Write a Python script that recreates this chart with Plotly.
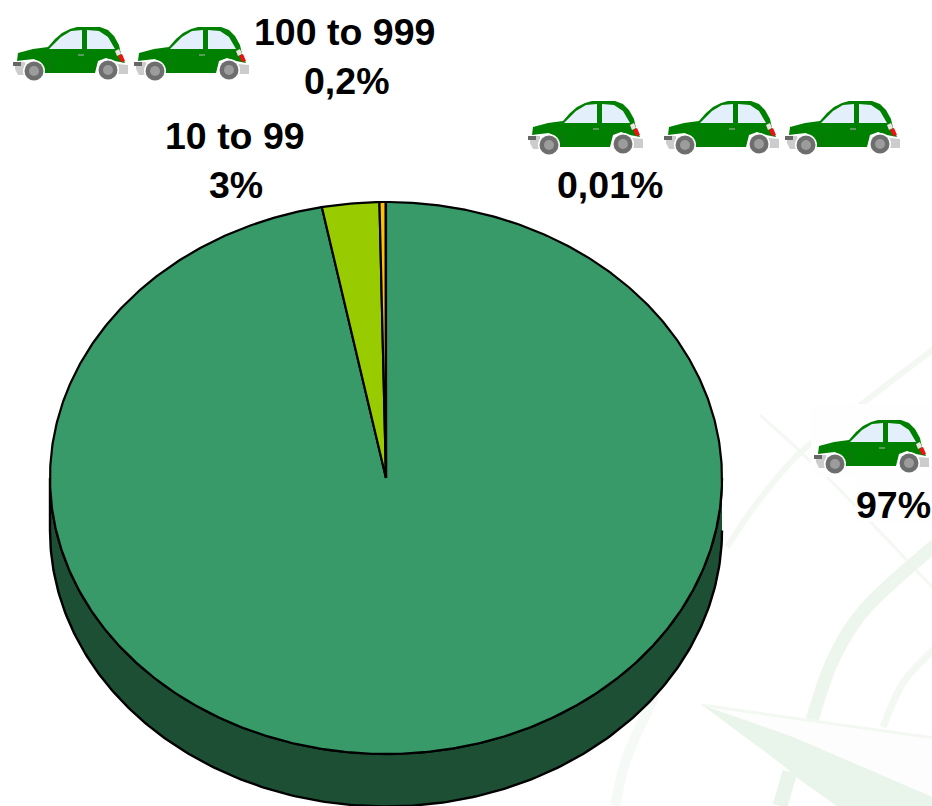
import numpy as np
import plotly.graph_objects as go

W, H = 932, 806
# Chart data
categories = ["1 to 9", "10 to 99", "100 to 999", "1000+"]
shares = [97, 2.75, 0.3, 0.01]
share_labels = ["97%", "3%", "0,2%", "0,01%"]
slice_colors = ["#379a68", "#99cc00", "#ffc000", "#1d4f35"]
side_color = "#1d4f35"
edge_color = "#000000"
start_angle = 0.0
depth_ratio = 0.19

# pixel geometry of the unit pie on the plot
cx, cy, rx, ry = 386, 478, 336, 276
x_range = [-cx / rx, (W - cx) / rx]
y_range = [-(H - cy) / ry, cy / ry]


def px(x):
    return x / W


def py(y):
    return 1 - y / H


def path_from(pts, close=True):
    s = "M" + " L".join(f"{px(x):.5f},{py(y):.5f}" for x, y in pts)
    return s + (" Z" if close else "")


def smooth(pts, n=24):
    # Catmull-Rom resampling for curved pale strokes
    p = np.array(pts, float)
    p = np.vstack([p[0], p, p[-1]])
    out = []
    for i in range(1, len(p) - 2):
        for t in np.linspace(0, 1, n, endpoint=False):
            out.append(0.5 * ((2 * p[i]) + (-p[i - 1] + p[i + 1]) * t
                              + (2 * p[i - 1] - 5 * p[i] + 4 * p[i + 1] - p[i + 2]) * t * t
                              + (-p[i - 1] + 3 * p[i] - 3 * p[i + 1] + p[i + 2]) * t ** 3))
    out.append(p[-2])
    return [tuple(q) for q in out]


shapes = []
# Watermark
PALE = "#ecf6ed"
PALER = "#f3f8f3"


def stroke(pts, width, color=PALE):
    shapes.append(dict(type="path", xref="paper", yref="paper", layer="below",
                       path=path_from(smooth(pts), close=False),
                       line=dict(color=color, width=width), fillcolor="rgba(0,0,0,0)"))


def poly(pts, color=PALE):
    shapes.append(dict(type="path", xref="paper", yref="paper", layer="below",
                       path=path_from(pts), line=dict(width=0), fillcolor=color))


stroke([(760, 415), (830, 480), (935, 590)], 3, PALER)
stroke([(935, 348), (867, 400), (800, 453), (757, 503), (727, 547)], 6, PALER)
stroke([(935, 545), (867, 607), (833, 660), (812, 720)], 13)
stroke([(935, 648), (903, 683), (883, 727)], 7, PALER)
stroke([(655, 695), (627, 757), (615, 806)], 10, "#f6faf6")
poly([(702, 705), (932, 737), (932, 797), (793, 737)], "#fcfdfc")
stroke([(702, 705), (820, 722), (935, 738)], 3, PALER)
poly([(702, 705), (793, 737), (935, 798), (935, 806), (837, 806), (800, 780), (780, 763)], "#e9f5ea")
stroke([(790, 772), (780, 806)], 15, "#e9f5ea")


def rect(x0, y0, x1, y1, color):
    shapes.append(dict(type="rect", xref="paper", yref="paper", layer="below",
                       x0=px(x0), x1=px(x1), y0=py(y1), y1=py(y0),
                       line=dict(width=0), fillcolor=color))


def circle(x, y, r, color):
    shapes.append(dict(type="circle", xref="paper", yref="paper", layer="below",
                       x0=px(x - r), x1=px(x + r), y0=py(y + r), y1=py(y - r),
                       line=dict(width=0), fillcolor=color))


def car(x, y):
    """Car icon; x, y = top-left of its 116x54 box."""
    def P(pts):
        return [(x + a, y + b) for a, b in pts]
    G = "#008000"
    poly(P([(2, 35), (12, 35), (14, 48), (5, 48), (2, 42)]), "#cccccc")
    poly(P([(104, 37), (115, 38), (115, 47), (104, 47)]), "#cccccc")
    poly(P([(0, 35), (8, 35), (8, 39), (0, 39)]), "#666666")
    poly(P([(4, 34), (5, 26), (20, 22), (35, 20), (42, 12), (49, 6), (57, 2), (64, 0), (87, 0),
            (95, 3), (101, 9), (106, 18), (108, 27), (112, 36), (102, 34), (93, 31), (85, 34),
            (82, 46), (31, 46), (29, 37), (21, 32), (12, 33)]), G)
    poly(P([(36, 22), (48, 10), (58, 4), (69, 3), (69, 22)]), "#e3f0fb")
    poly(P([(74, 3), (86, 4), (95, 10), (102, 22), (74, 22)]), "#e3f0fb")
    poly(P([(105, 29), (109, 27), (112, 34), (108, 35)]), "#ee1111")
    poly(P([(102, 24), (106, 22), (108, 27), (104, 29)]), "#efe3e3")
    rect(x + 65, y + 27, x + 71, y + 29, "#5a9a5a")
    rect(x + 35, y + 32, x + 36, y + 46, "#1f6d1f")
    for wx, wy in ((21, 44), (95, 43)):
        circle(x + wx, y + wy, 11, "#ffffff")
        circle(x + wx, y + wy, 9.5, "#6e6e6e")
        circle(x + wx, y + wy, 5, "#9c9c9c")


rect(811, 404, 932, 477, "#fdfefd")
rect(855, 477, 932, 522, "#fdfefd")
for car_x, car_y in [(13, 27), (134, 27), (528, 101), (664, 101), (785, 101), (814, 420)]:
    car(car_x, car_y)

fig = go.Figure()

# Side wall: lower half of the disc, pushed down by the depth
t = np.radians(np.linspace(90, 270, 241))
sx = np.concatenate([np.sin(t), np.sin(t[::-1])])
sy = np.concatenate([np.cos(t), np.cos(t[::-1]) - depth_ratio])
fig.add_trace(go.Scatter(x=sx, y=sy, mode="lines", fill="toself", fillcolor=side_color,
                         line=dict(color=edge_color, width=2.4), hoverinfo="skip", showlegend=False))

# Slices, clockwise from the top, largest first
total = sum(shares)
angle = start_angle
for name, value, label, color in zip(categories, shares, share_labels, slice_colors):
    sweep = value / total * 360
    a = np.radians(np.linspace(angle, angle + sweep, max(3, int(sweep * 2))))
    fig.add_trace(go.Scatter(x=np.concatenate([[0], np.sin(a), [0]]),
                             y=np.concatenate([[0], np.cos(a), [0]]),
                             mode="lines", fill="toself", fillcolor=color,
                             line=dict(color=edge_color, width=2.2), name=name,
                             text=label, hoverinfo="text+name", showlegend=False))
    angle += sweep


def text(x, y, s):
    return dict(x=px(x), y=py(y), xref="paper", yref="paper", text=s, showarrow=False,
                xanchor="center", yanchor="middle",
                font=dict(family="Liberation Sans", size=37.5, color="#000000"))


annotations = [
    text(344, 32, f"<b>{categories[2]}</b>"),
    text(346, 81, f"<b>{share_labels[2]}</b>"),
    text(235, 136, f"<b>{categories[1]}</b>"),
    text(236, 185, f"<b>{share_labels[1]}</b>"),
    text(610, 185, f"<b>{share_labels[3]}</b>"),
    text(893, 505, f"<b>{share_labels[0]}</b>"),
]

fig.update_layout(
    width=W, height=H, autosize=False,
    margin=dict(l=0, r=0, t=0, b=0),
    paper_bgcolor="#ffffff", plot_bgcolor="rgba(0,0,0,0)",
    xaxis=dict(range=x_range, visible=False, fixedrange=True),
    yaxis=dict(range=y_range, visible=False, fixedrange=True),
    shapes=shapes, annotations=annotations,
)
fig.write_html("out.html", config={"displayModeBar": False},
               post_script="document.body.style.margin='0';document.body.style.overflow='hidden';")
